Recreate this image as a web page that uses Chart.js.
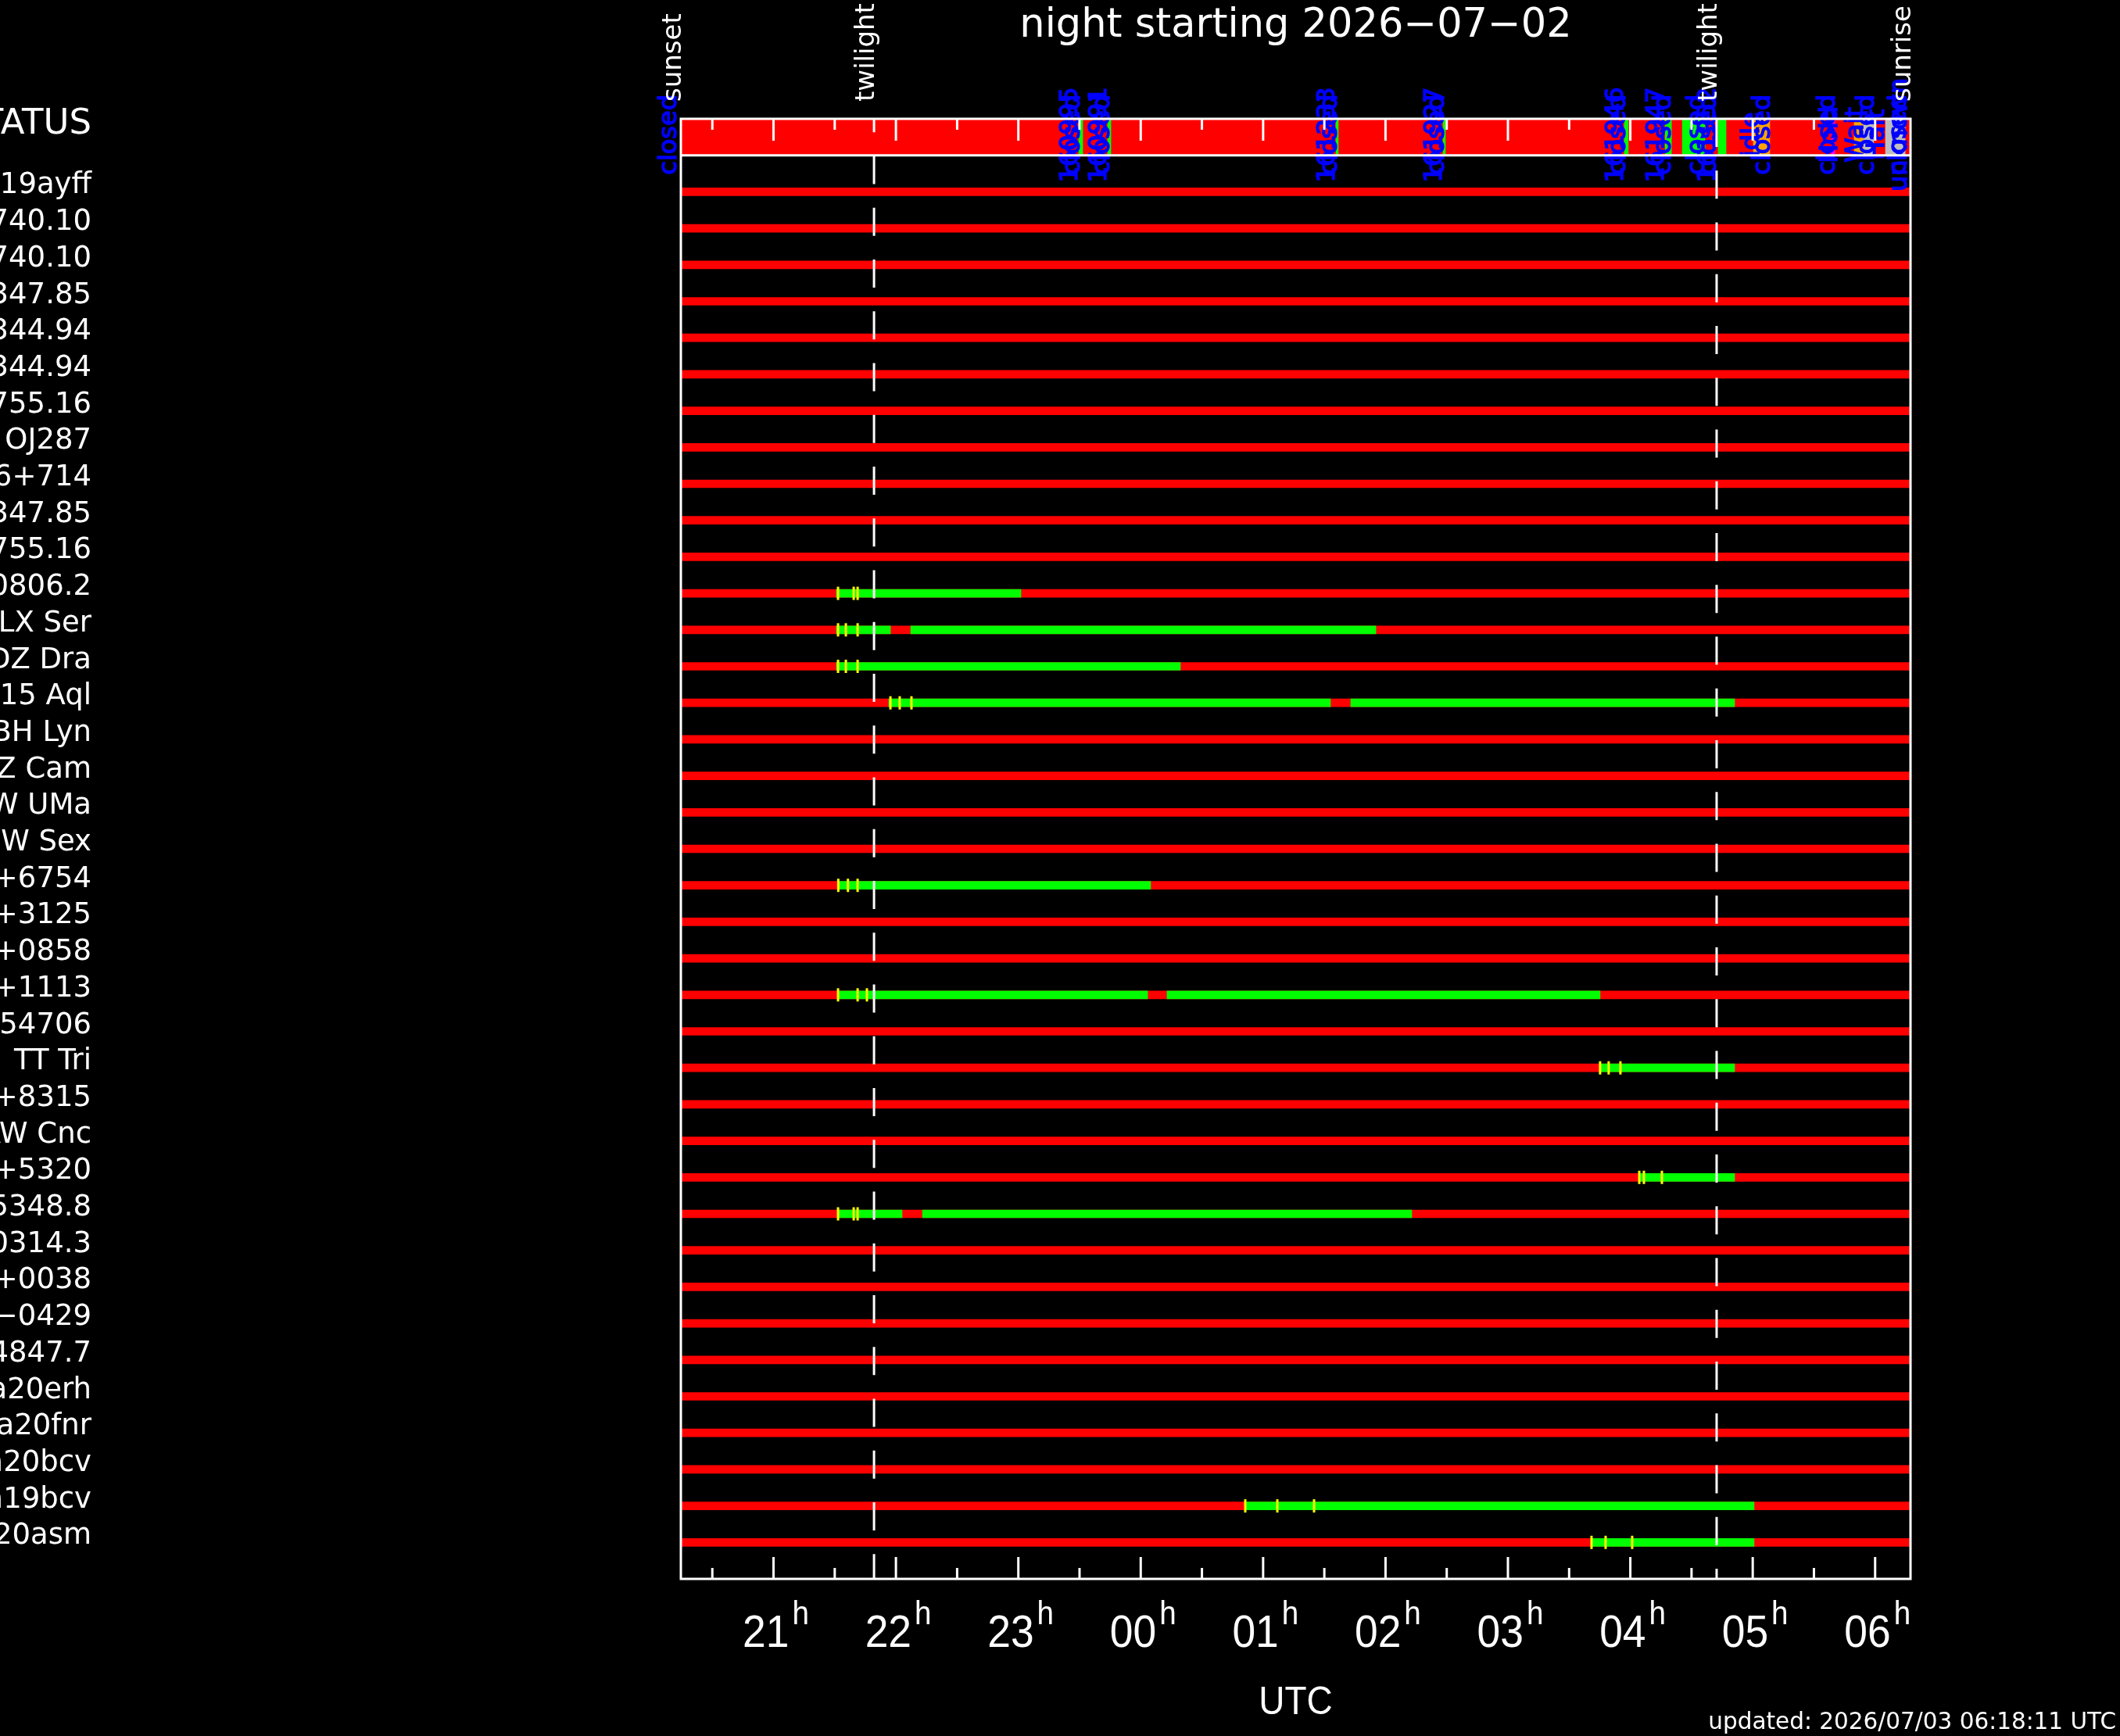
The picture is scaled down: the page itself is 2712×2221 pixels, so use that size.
<!DOCTYPE html>
<html>
<head>
<meta charset="utf-8">
<script src="https://cdn.jsdelivr.net/npm/chart.js@4.4.1/dist/chart.umd.min.js"></script>
<style>
html, body { margin: 0; padding: 0; background: #000; overflow: hidden; }
canvas { display: block; }
</style>
</head>
<body>
<canvas id="night" width="2712" height="2221"></canvas>
<script>
// night of 2026-07-02, times in decimal UTC hours (after midnight counted as 24+)
const nightStart = 20.243;   // sunset
const nightEnd = 30.289;     // sunrise
const twilightTimes = [21.821, 28.705];
const sunEvents = ["sunset", "twilight", "twilight", "sunrise"];
const sunTimes = [nightStart, twilightTimes[0], twilightTimes[1], nightEnd];

const hourTicks = [21, 22, 23, 24, 25, 26, 27, 28, 29, 30];
const hourLabels = ["21", "22", "23", "00", "01", "02", "03", "04", "05", "06"];
const halfTicks = [20.5, 21.5, 22.5, 23.5, 24.5, 25.5, 26.5, 27.5, 28.5, 29.5];

const rowNames = [
  "AT2019ayff", "TOI 1740.10", "TOI 1740.10", "TOI 2347.85", "TOI 2344.94",
  "TOI 2344.94", "TOI 1755.16", "OJ287", "S5 0716+714", "TOI 2347.85",
  "TOI 1755.16", "RX J0806.2", "LX Ser", "DZ Dra", "V1315 Aql",
  "BH Lyn", "Z Cam", "SW UMa", "SW Sex", "J1903+6754",
  "J1712+3125", "J1616+0858", "J1913+1113", "TIC 3454706", "TT Tri",
  "J0610+8315", "AW Cnc", "J1458+5320", "1RXS J165348.8", "1RXS J060314.3",
  "J0152+0038", "J0844\u22120429", "1RXS J154847.7", "Gaia20erh", "Gaia20fnr",
  "Gaia20bcv", "Gaia19bcv", "Gaia20asm"
];

// observable windows (green) per row
const openRow   = [11, 12, 12, 13, 14, 14, 19, 22, 22, 24, 27, 28, 28, 36, 37];
const openStart = [21.514, 21.514, 22.121, 21.514, 21.942, 25.716, 21.527, 21.527, 24.215, 27.753, 28.073, 21.527, 22.217, 24.854, 27.683];
const openEnd   = [23.021, 21.955, 25.921, 24.324, 25.550, 28.852, 24.081, 24.056, 27.753, 28.852, 28.852, 22.050, 26.214, 29.011, 29.011];

// yellow exposure marks
const markRow  = [11, 11, 11, 12, 12, 12, 13, 13, 13, 14, 14, 14, 19, 19, 19, 22, 22, 22,
                  24, 24, 24, 27, 27, 27, 28, 28, 28, 36, 36, 36, 37, 37, 37];
const markTime = [21.527, 21.655, 21.687, 21.527, 21.591, 21.687, 21.527, 21.591, 21.687,
                  21.955, 22.031, 22.127, 21.529, 21.608, 21.687, 21.527, 21.687, 21.763,
                  27.753, 27.823, 27.919, 28.073, 28.111, 28.258, 21.527, 21.655, 21.687,
                  24.854, 25.116, 25.416, 27.683, 27.798, 28.015];

// telescope status strip
const statusStart = [23.494, 23.730, 25.595, 26.470, 27.951, 28.285, 28.425, 28.718, 29.005, 29.644, 29.829, 29.905, 30.085];
const statusEnd   = [23.526, 23.756, 25.614, 26.489, 27.983, 28.336, 28.610, 28.782, 29.139, 29.669, 29.905, 29.988, 30.245];
const statusState = ["open", "open", "open", "open", "open", "open", "open", "open", "idle", "fault", "idle", "unknown", "unknown"];
const statusLabelTime = [20.205, 23.48, 23.50, 23.72, 23.745, 25.58, 25.60, 26.455, 26.475, 27.94, 27.96,
                         28.27, 28.33, 28.605, 28.69, 28.70, 29.05, 29.14, 29.67, 29.69, 29.90, 29.99, 30.07, 30.25, 30.26];
const statusLabelText = ["closed", "160995", "closed", "160991", "closed", "161233", "closed", "161927", "closed",
                         "161946", "closed", "161947", "closed", "closed", "161952", "closed", "idle", "closed",
                         "closed", "Hold", "Wait", "closed", "Halt", "closed", "unknown"];

const stateColors = { open: "#00ff00", idle: "#ffa500", fault: "#ff00ff", unknown: "#bebebe" };
const statusY = -1.5;

const nightDecor = {
  id: "nightDecor",
  beforeDraw(chart) {
    const c = chart.ctx;
    c.save();
    c.fillStyle = "#000";
    c.fillRect(0, 0, chart.width, chart.height);
    c.restore();
  },
  afterDatasetsDraw(chart) {
    const c = chart.ctx;
    const xs = chart.scales.x, ys = chart.scales.y, a = chart.chartArea;
    const line = (x1, y1, x2, y2) => { c.beginPath(); c.moveTo(x1, y1); c.lineTo(x2, y2); c.stroke(); };
    c.save();

    // blue status labels, vertical (a little stroke for the heavier plot pen)
    c.fillStyle = "#0000ff";
    c.strokeStyle = "#0000ff";
    c.lineWidth = 1.5;
    c.font = '32px "DejaVu Sans"';
    c.textAlign = "center";
    c.textBaseline = "alphabetic";
    const mid = ys.getPixelForValue(statusY) - 3;
    statusLabelTime.forEach((t, k) => {
      c.save();
      c.translate(xs.getPixelForValue(t), mid);
      c.rotate(-Math.PI / 2);
      c.fillText(statusLabelText[k], 0, 0);
      c.strokeText(statusLabelText[k], 0, 0);
      c.restore();
    });

    // frame
    c.strokeStyle = "#fff";
    c.lineWidth = 3;
    c.strokeRect(a.left, a.top, a.right - a.left, a.bottom - a.top);
    const sep = ys.getPixelForValue(-1);
    line(a.left, sep, a.right, sep);

    // ticks top (status box) and bottom
    hourTicks.forEach(h => {
      const x = xs.getPixelForValue(h);
      line(x, a.top, x, a.top + 28);
      line(x, a.bottom, x, a.bottom - 28);
    });
    halfTicks.forEach(h => {
      const x = xs.getPixelForValue(h);
      line(x, a.top, x, a.top + 14);
      line(x, a.bottom, x, a.bottom - 14);
    });

    // twilight dashed lines
    const dashOffsets = [18.75, 0];
    c.setLineDash([36, 30.25]);
    twilightTimes.forEach((t, k) => {
      const x = xs.getPixelForValue(t);
      c.lineDashOffset = dashOffsets[k];
      line(x, a.top, x, a.bottom);
    });
    c.setLineDash([]);

    c.fillStyle = "#fff";
    // title
    c.font = '51px "DejaVu Sans"';
    c.textAlign = "center";
    c.fillText("night starting 2026\u221207\u221202", (a.left + a.right) / 2, 47);

    // sun event labels
    c.font = '34px "DejaVu Sans"';
    c.textAlign = "left";
    sunTimes.forEach((t, k) => {
      c.save();
      c.translate(xs.getPixelForValue(t), 130);
      c.rotate(-Math.PI / 2);
      c.fillText(sunEvents[k], 0, 0);
      c.restore();
    });

    // row names
    c.textAlign = "right";
    c.font = '45px "DejaVu Sans"';
    c.fillText("STATUS", 117, ys.getPixelForValue(statusY) - 4);
    c.font = '37px "DejaVu Sans"';
    rowNames.forEach((n, i) => c.fillText(n, 117, ys.getPixelForValue(i) + 2));

    // hour labels with superscript h
    hourTicks.forEach((h, k) => {
      const x = xs.getPixelForValue(h);
      c.font = '58px "Liberation Sans"';
      const wd = c.measureText(hourLabels[k]).width * 0.92;
      c.font = '42px "Liberation Sans"';
      const wh = c.measureText("h").width * 0.92;
      const x0 = x - (wd + 4 + wh) / 2 + 3;
      c.save();
      c.translate(x0, 0);
      c.scale(0.92, 1);
      c.textAlign = "left";
      c.font = '58px "Liberation Sans"';
      c.fillText(hourLabels[k], 0, 2107);
      c.font = '42px "Liberation Sans"';
      c.fillText("h", (wd + 4) / 0.92, 2078);
      c.restore();
    });

    c.save();
    c.translate((a.left + a.right) / 2, 2193);
    c.scale(0.92, 1);
    c.textAlign = "center";
    c.font = '50px "Liberation Sans"';
    c.fillText("UTC", 0, 0);
    c.restore();

    c.textAlign = "right";
    c.font = '29.5px "DejaVu Sans"';
    c.fillText("updated: 2026/07/03 06:18:11 UTC", 2707, 2212);
    c.restore();
  }
};

const baseData = rowNames.map((n, i) => ({ x: [nightStart, nightEnd], y: i }));
const openData = openRow.map((r, k) => ({ x: [openStart[k], openEnd[k]], y: r }));
const markData = markRow.map((r, k) => ({ x: markTime[k], y: r }));
const statusBase = [{ x: [nightStart, nightEnd], y: statusY }];
const statusData = statusStart.map((s, k) => ({ x: [s, statusEnd[k]], y: statusY }));

new Chart(document.getElementById("night").getContext("2d"), {
  type: "bar",
  data: {
    datasets: [
      { data: statusBase, backgroundColor: "#ff0000", barThickness: 44, grouped: false, order: 4 },
      { data: statusData, backgroundColor: statusState.map(s => stateColors[s]), barThickness: 44, grouped: false, order: 3 },
      { data: baseData, backgroundColor: "#ff0000", barThickness: 10, grouped: false, order: 4 },
      { data: openData, backgroundColor: "#00ff00", barThickness: 10, grouped: false, order: 3 },
      { type: "scatter", data: markData, pointStyle: "line", rotation: 90, radius: 8.5,
        borderColor: "#ffff00", borderWidth: 3, order: 1 }
    ]
  },
  options: {
    indexAxis: "y",
    responsive: false,
    devicePixelRatio: 1,
    animation: false,
    events: [],
    layout: { padding: { left: 871, right: 268, top: 152, bottom: 201 } },
    scales: {
      x: { type: "linear", min: nightStart, max: nightEnd, offset: false, display: false },
      y: { type: "linear", min: -2, max: 38, reverse: true, offset: false, display: false }
    },
    plugins: { legend: { display: false }, tooltip: { enabled: false } }
  },
  plugins: [nightDecor]
});
</script>
</body>
</html>
